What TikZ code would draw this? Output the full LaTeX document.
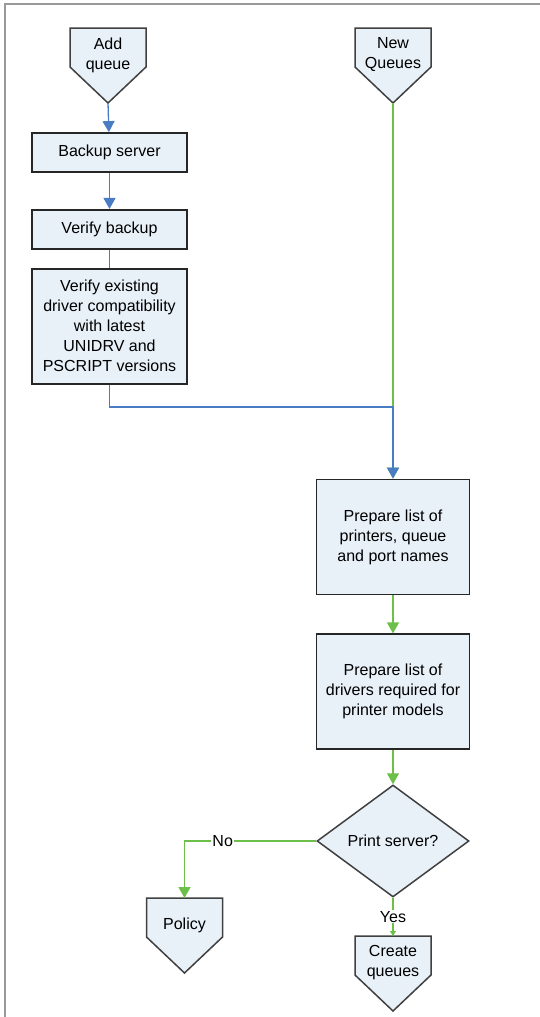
\documentclass[tikz,border=0pt]{standalone}
\usepackage{fontspec}
\setmainfont{Liberation Sans}
\usetikzlibrary{positioning,shapes.geometric,arrows.meta,calc,backgrounds}
\definecolor{flowblue}{HTML}{4A7CC4}
\definecolor{flowgreen}{HTML}{6CC04A}
\definecolor{boxfill}{HTML}{E8F0F8}

\begin{document}
\begin{tikzpicture}[x=1pt, y=-1pt, >={Triangle[width=12pt,length=11pt]}, font=\fontsize{16}{20}\selectfont]
 \tikzset{
  stepbox/.style={draw=black!85, line width=1.8pt, fill=boxfill, align=center, minimum width=155pt, inner sep=2pt},
  term/.style={align=center, inner sep=0pt},
  termline/.style={draw=black!75, line width=1.5pt, fill=boxfill},
  decision/.style={diamond, draw=black!75, line width=1.5pt, fill=boxfill, aspect=1.357, minimum width=152pt, minimum height=112pt, inner sep=0pt},
  blueline/.style={draw=flowblue, line width=1.3pt},
  greenline/.style={draw=flowgreen, line width=1.3pt}
 }
 \useasboundingbox (0,0) rectangle (540,1017);
 \draw[gray!80, line width=1.5pt] (5,1017) -- (5,4) -- (540,4);
 % start points
 \node[term] (addq) at (108,55) {Add\\queue};
 \node[term] (newq) at (393,55) {New\\Queues};
 % left column
 \node[stepbox, minimum height=39pt] (backup) at (109.5,152.5) {Backup server};
 \node[stepbox, minimum height=39pt, below=36pt of backup] (verbk) {Verify backup};
 \node[stepbox, minimum height=115pt, below=18pt of verbk] (verdrv) {Verify existing\\driver compatibility\\with latest\\UNIDRV and\\PSCRIPT versions};
 % right column
 \node[stepbox, minimum width=153pt, minimum height=115pt] (prep1) at (393,537) {Prepare list of\\printers, queue\\and port names};
 \node[stepbox, minimum width=153pt, minimum height=115pt, below=38pt of prep1] (prep2) {Prepare list of\\drivers required for\\printer models};
 \node[decision] (srv) at (393,841) {Print server?};
 % end points
 \node[term] (policy) at (184.5,925) {Policy};
 \node[term] (create) at (393,963) {Create\\queues};
 \coordinate (join) at (393,407);
 % pentagon outlines behind the texts
 \begin{scope}[on background layer]
  \foreach \t in {addq,newq,policy,create}
   \draw[termline] ($(\t)+(-38,-27)$) coordinate (\t-top) -- ++(76,0) -- ++(0,39) -- ++(-38,36) coordinate (\t-tip) -- ++(-38,-36) -- cycle;
 \end{scope}
 % connectors
 \draw[blueline, ->] (addq-tip) -- (backup);
 \draw[blueline, ->] (backup) -- (verbk);
 \draw[blueline] (verbk) -- (verdrv);
 \draw[greenline, ->] (newq-tip) -- (prep1);
 \draw[blueline, ->] (verdrv.south) |- (join) -- (prep1);
 \draw[greenline, ->] (prep1) -- (prep2);
 \draw[greenline, ->] (prep2) -- (srv);
 \draw[greenline, ->] (srv.west) -| node[pos=0.355, fill=white, inner sep=1pt] {No} ($(policy-top)+(38,0)$);
 \draw[greenline, -{Triangle[width=6pt,length=5pt]}] (srv.south) -- node[fill=white, inner sep=1pt] {Yes} ($(create-top)+(38,0)$);
\end{tikzpicture}
\end{document}
